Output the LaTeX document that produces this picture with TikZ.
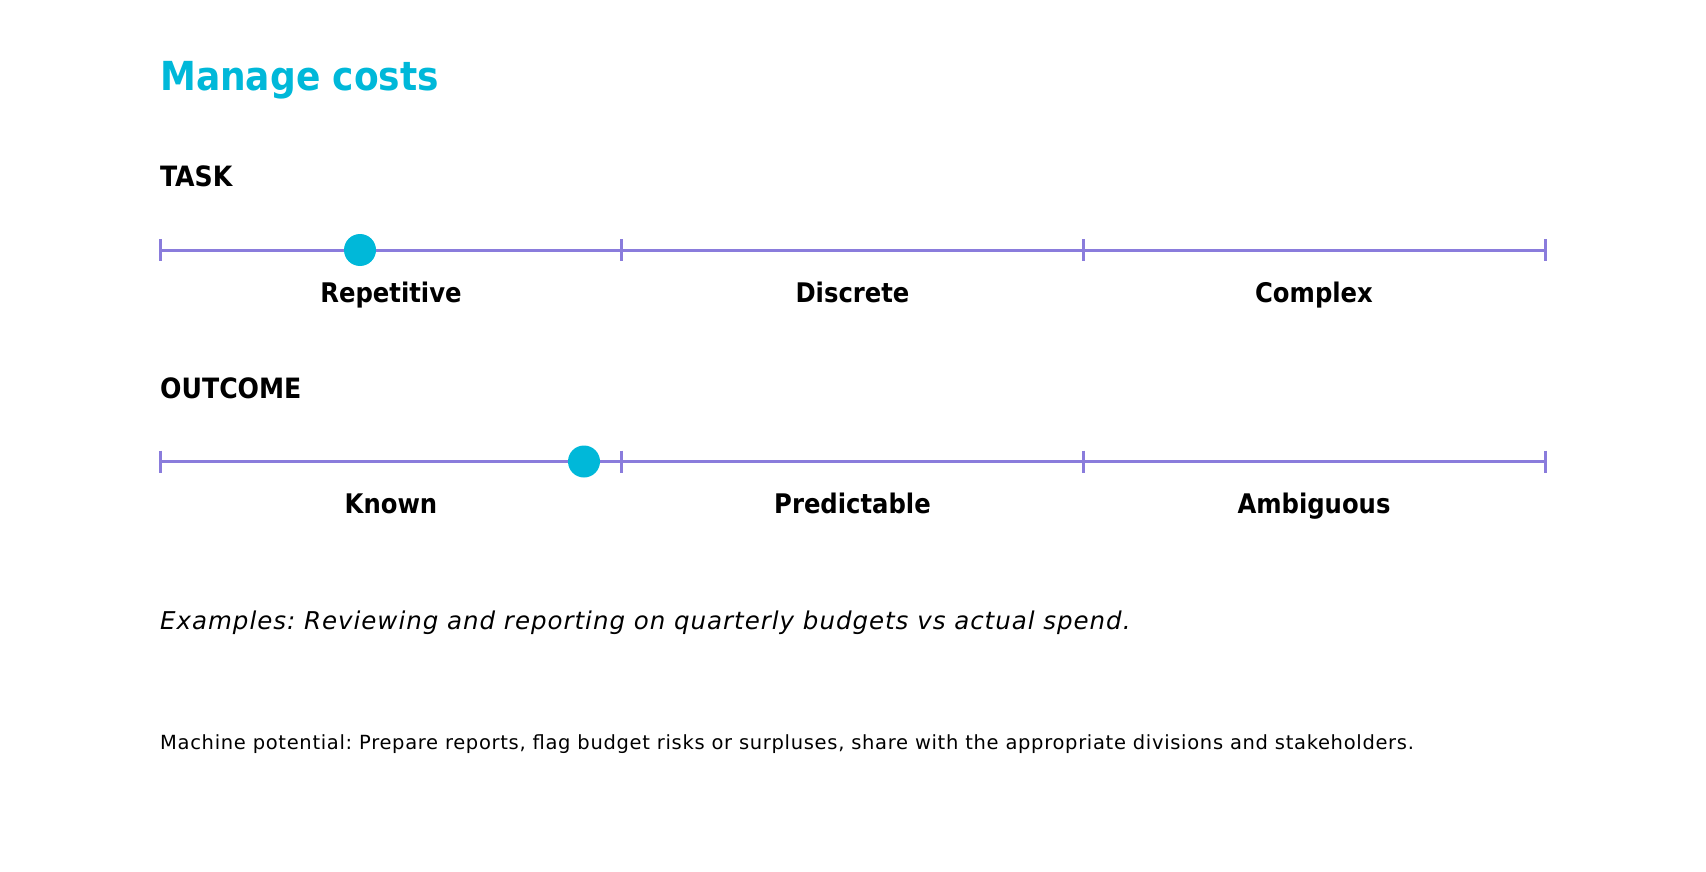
\documentclass[tikz,border=0pt]{standalone}
\usepackage{fontspec}
\setmainfont{DejaVu Sans}
\newfontfamily\semifont{DejaVu Sans Condensed}
\newfontfamily\examplefont[LetterSpace=4]{DejaVu Sans Oblique}
\newfontfamily\notefont[LetterSpace=3.5]{DejaVu Sans}
\usepackage{tikz}
\usetikzlibrary{positioning}
\definecolor{costcyan}{RGB}{0,184,217}
\definecolor{scalepurple}{RGB}{138,124,220}
\frenchspacing

\begin{document}
\begin{tikzpicture}[x=1pt,y=-1pt,
  title/.style={anchor=base west,inner sep=0pt,text=costcyan,font=\fontsize{40}{44}\semifont\bfseries},
  heading/.style={anchor=base west,inner sep=0pt,font=\fontsize{28}{30}\semifont\bfseries},
  scalelabel/.style={anchor=base,inner sep=0pt,font=\fontsize{27}{30}\semifont\bfseries},
  scaleline/.style={draw=scalepurple,line width=3pt},
  dot/.style={circle,fill=costcyan,inner sep=0pt,minimum size=32pt},
  note/.style={anchor=base west,inner sep=0pt}]
\useasboundingbox (0,0) rectangle (1706,872);

\node[title] (title) at (160,91) {Manage costs};

% task scale
\node[heading] (task) at (160,186) {TASK};
\coordinate (t0) at (160,250);
\coordinate (t1) at (621.5,250);
\coordinate (t2) at (1083.5,250);
\coordinate (t3) at (1545,250);
\draw[scaleline] (t0) -- (t3);
\foreach \c in {t0,t1,t2,t3}
  \draw[scaleline] (\c) ++(0,-11) -- ++(0,22);
\node[dot] (taskdot) at (360,250) {};
\node[scalelabel] (rep) at (391,302) {Repetitive};
\node[scalelabel] (disc) at (852.5,302) {Discrete};
\node[scalelabel] (cplx) at (1314,302) {Complex};

% outcome scale
\node[heading] (outcome) at (160,398) {OUTCOME};
\coordinate (o0) at (160,461.5);
\coordinate (o1) at (621.5,461.5);
\coordinate (o2) at (1083.5,461.5);
\coordinate (o3) at (1545,461.5);
\draw[scaleline] (o0) -- (o3);
\foreach \c in {o0,o1,o2,o3}
  \draw[scaleline] (\c) ++(0,-11) -- ++(0,22);
\node[dot] (outdot) at (584,461.5) {};
\node[scalelabel] (known) at (391,513.5) {Known};
\node[scalelabel] (pred) at (852.5,513.5) {Predictable};
\node[scalelabel] (amb) at (1314,513.5) {Ambiguous};

\node[note,font=\fontsize{24.5}{28}\examplefont] (examples) at (160,629)
  {Examples: Reviewing and reporting on quarterly budgets vs actual spend.};
\node[note,font=\fontsize{19.5}{22}\notefont] (machine) at (160,749)
  {Machine potential: Prepare reports, flag budget risks or surpluses, share with the appropriate divisions and stakeholders.};
\end{tikzpicture}
\end{document}
